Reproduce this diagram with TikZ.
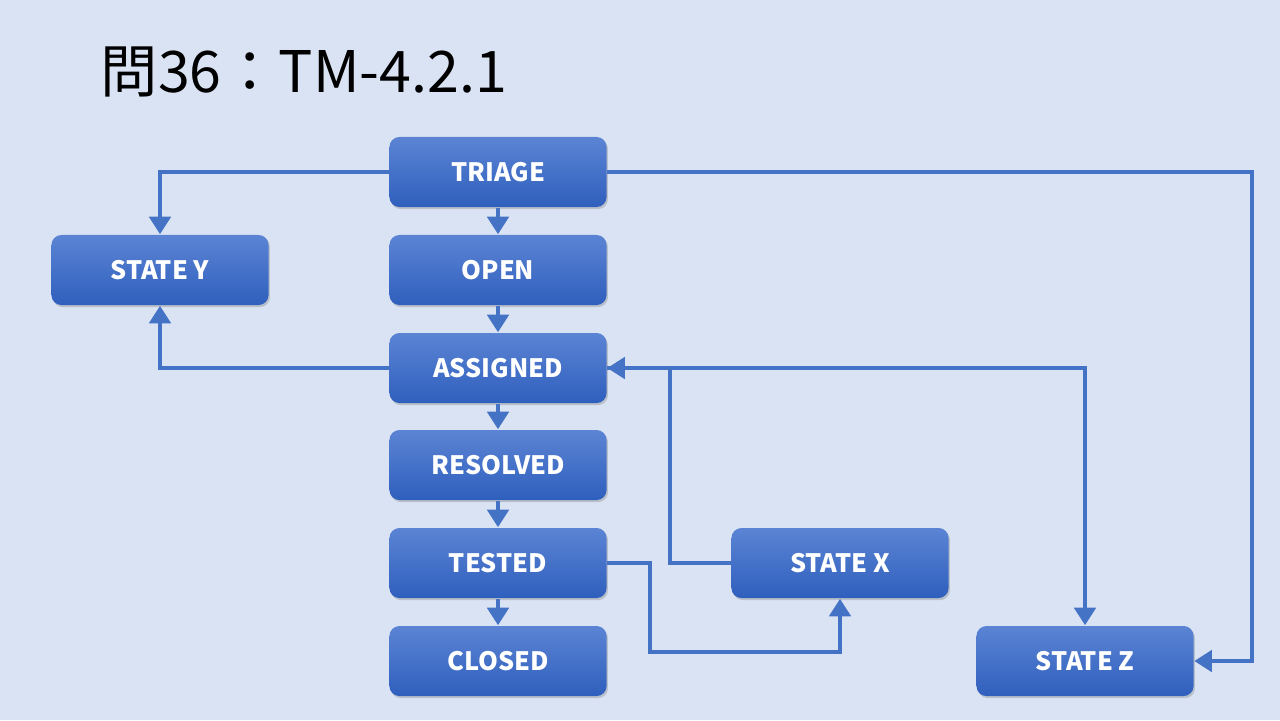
\documentclass[tikz,border=0pt]{standalone}
\usepackage{fontspec}
\setmainfont{Noto Sans CJK JP}
\usetikzlibrary{arrows.meta,shadows}
\definecolor{slidebg}{HTML}{DAE3F3}
\definecolor{boxtop}{HTML}{5B84D4}
\definecolor{boxbot}{HTML}{2F5FBD}
\definecolor{linkblue}{HTML}{4472C4}

\begin{document}
\begin{tikzpicture}[x=0.01cm,y=-0.01cm]
	\tikzset{state box/.style={rectangle,rounded corners=0.1cm,minimum width=2.17cm,minimum height=0.7cm,top color=boxtop,bottom color=boxbot,text=white,font=\fontsize{7.2pt}{8pt}\selectfont\bfseries,drop shadow={opacity=0.35,shadow xshift=0.4pt,shadow yshift=-0.6pt}},
		link/.style={draw=linkblue,line width=1.4pt,-{Triangle[width=6pt,length=5pt]}}}
	
	\fill[slidebg] (0,0) rectangle (1280,720);
	\node[anchor=base west,inner sep=0pt,font=\fontsize{16.3pt}{20pt}\selectfont] (title) at (100,92) {問36：TM-4.2.1};
	
	\node [state box] (triage) at (498,172) {TRIAGE};
	\node [state box] (open) at (498,270) {OPEN};
	\node [state box] (assigned) at (498,368) {ASSIGNED};
	\node [state box] (resolved) at (498,465) {RESOLVED};
	\node [state box] (tested) at (498,563) {TESTED};
	\node [state box] (closed) at (498,661) {CLOSED};
	\node [state box] (statey) at (160,270) {STATE Y};
	\node [state box] (statex) at (840,563) {STATE X};
	\node [state box] (statez) at (1085,661) {STATE Z};
	
	\draw[link] (triage.west) -| (statey.north);
	\draw[link] (triage) -- (open);
	\draw[link] (triage.east) -- (1252,172) |- (statez.east);
	\draw[link] (open) -- (assigned);
	\draw[link] (assigned.west) -| (statey.south);
	\draw[link] (assigned.east) -| (statez.north);
	\draw[link] (statex.west) -- (670,563) |- (assigned.east);
	\draw[link] (assigned) -- (resolved);
	\draw[link] (resolved) -- (tested);
	\draw[link] (tested) -- (closed);
	\draw[link] (tested.east) -- (650,563) -- (650,652) -| (statex.south);
\end{tikzpicture}
\end{document}
